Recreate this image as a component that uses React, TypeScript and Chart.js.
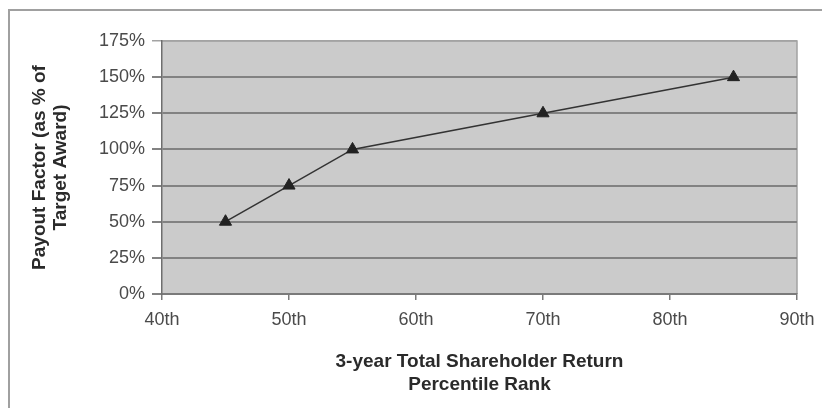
import React, { useEffect, useRef } from "react";
import { Chart, registerables } from "chart.js";

Chart.register(...registerables);

const percentileRanks = [45, 50, 55, 70, 85];
const payoutFactors = [50, 75, 100, 125, 150];
const xTitleLines = ["3-year Total Shareholder Return", "Percentile Rank"];
const yTitleLines = ["Payout Factor (as % of", "Target Award)"];

const FONT = "'Liberation Sans', Arial, sans-serif";

const decorPlugin = {
  id: "decor",
  beforeDraw(chart: any) {
    const { ctx, chartArea } = chart;
    ctx.save();
    ctx.fillStyle = "#ffffff";
    ctx.fillRect(0, 0, chart.width, chart.height);
    // outer frame
    ctx.strokeStyle = "#a0a0a0";
    ctx.lineWidth = 2;
    ctx.beginPath();
    ctx.moveTo(9, chart.height + 5);
    ctx.lineTo(9, 10);
    ctx.lineTo(chart.width + 5, 10);
    ctx.stroke();
    // plot background
    ctx.fillStyle = "#cbcbcb";
    ctx.fillRect(chartArea.left, chartArea.top, chartArea.right - chartArea.left, chartArea.bottom - chartArea.top);
    // plot frame right/top
    ctx.strokeStyle = "#a3a3a3";
    ctx.lineWidth = 1.5;
    ctx.beginPath();
    ctx.moveTo(chartArea.left, chartArea.top);
    ctx.lineTo(chartArea.right, chartArea.top);
    ctx.lineTo(chartArea.right, chartArea.bottom);
    ctx.stroke();
    ctx.restore();
  },
  afterDraw(chart: any) {
    const { ctx, chartArea } = chart;
    ctx.save();
    ctx.fillStyle = "#2a2a2a";
    ctx.font = `bold 19px ${FONT}`;
    ctx.textAlign = "center";
    ctx.textBaseline = "middle";
    const cx = (chartArea.left + chartArea.right) / 2;
    xTitleLines.forEach((t, i) => ctx.fillText(t, cx, 362 + i * 23));
    const cy = (chartArea.top + chartArea.bottom) / 2;
    ctx.translate(0, cy);
    ctx.rotate(-Math.PI / 2);
    yTitleLines.forEach((t, i) => ctx.fillText(t, 0, 39.5 + i * 21.5));
    ctx.restore();
  },
};

export default function App() {
  const ref = useRef<HTMLCanvasElement>(null);
  useEffect(() => {
    if (!ref.current) return;
    const chart = new Chart(ref.current, {
      type: "line",
      data: {
        datasets: [
          {
            data: percentileRanks.map((x, i) => ({ x, y: payoutFactors[i] })),
            borderColor: "#333333",
            borderWidth: 1.5,
            pointStyle: "triangle",
            pointRadius: 7,
            pointBackgroundColor: "#222222",
            pointBorderColor: "#222222",
            pointBorderWidth: 1,
            tension: 0,
          },
        ],
      },
      options: {
        animation: false,
        responsive: false,
        layout: { padding: { left: 0, top: 41, right: 25, bottom: 0 } },
        plugins: { legend: { display: false }, tooltip: { enabled: false } },
        scales: {
          x: {
            type: "linear",
            min: 40,
            max: 90,
            afterFit: (s: any) => {
              s.height = 114;
              s.paddingLeft = 0;
              s.paddingRight = 0;
            },
            ticks: {
              stepSize: 10,
              callback: (v: any) => `${v}th`,
              color: "#4a4a4a",
              font: { family: FONT, size: 18 },
              padding: 9,
              maxRotation: 0,
            },
            grid: {
              drawOnChartArea: false,
              drawTicks: true,
              tickLength: 6,
              color: "#7a7a7a",
              lineWidth: 1.5,
            },
            border: { color: "#7a7a7a", width: 2 },
          },
          y: {
            type: "linear",
            min: 0,
            max: 175,
            afterFit: (s: any) => {
              s.width = 162;
              s.paddingTop = 0;
              s.paddingBottom = 0;
            },
            ticks: {
              stepSize: 25,
              callback: (v: any) => `${v}%`,
              color: "#4a4a4a",
              font: { family: FONT, size: 18 },
              padding: 7,
            },
            grid: {
              tickLength: 10,
              color: (c: any) => (c.tick && c.tick.value === 175 ? "#a3a3a3" : "#828282"),
              lineWidth: (c: any) => (c.tick && c.tick.value === 175 ? 1.5 : 2),
            },
            border: { color: "#6e6e6e", width: 1.5 },
          },
        },
      },
      plugins: [decorPlugin],
    });
    return () => chart.destroy();
  }, []);
  return (
    <div style={{ position: "absolute", left: 0, top: 0, width: 822, height: 408 }}>
      <canvas ref={ref} width={822} height={408} style={{ width: 822, height: 408 }} />
    </div>
  );
}
